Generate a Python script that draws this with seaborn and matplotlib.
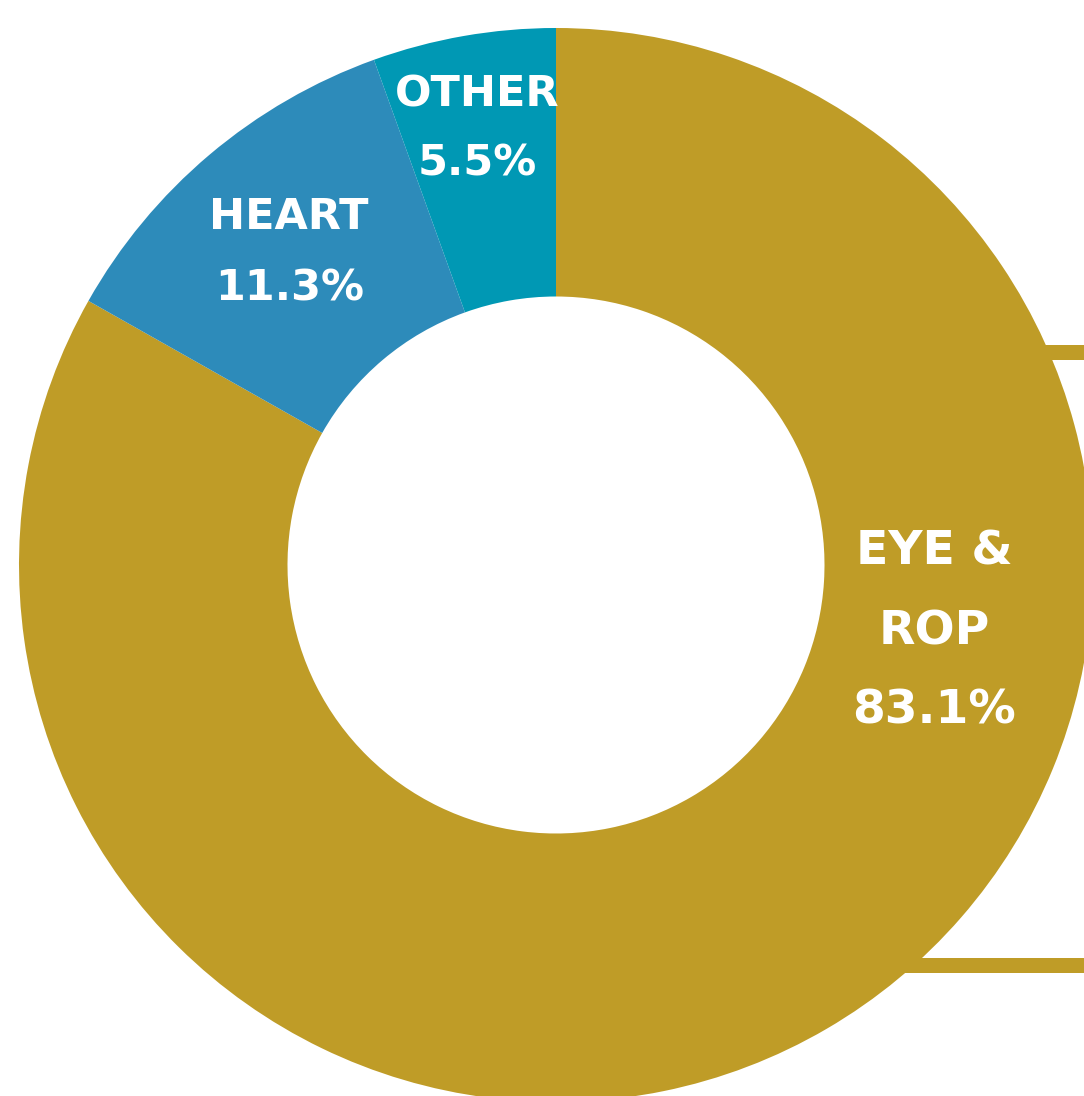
import numpy as np
import matplotlib
matplotlib.use("Agg")
import matplotlib.pyplot as plt
import seaborn as sns

# slice data, clockwise from 12 o'clock
categories = ["EYE &\nROP", "HEART", "OTHER"]
shares     = [83.1, 11.3, 5.5]
colors     = ["#BF9C27", "#2D8BBA", "#0098B4"]

# label placement (angle in degrees, radius in outer-radius units)
label_angle  = [-10.0, 130.5, 100.3]
label_radius = [0.715, 0.765, 0.825]
label_size   = [34, 31, 31]
label_space  = [1.98, 1.88, 1.84]

sns.set_theme(style="white")
plt.rcParams['font.family'] = ['DejaVu Sans']

W, H, DPI = 1084, 1096, 100
cx, cy, R = 556, 565, 537   # pixel centre and outer radius

fig = plt.figure(figsize=(W / DPI, H / DPI), dpi=DPI)
ax = fig.add_axes([0, 0, 1, 1])

ax.pie(shares, colors=colors, startangle=90, counterclock=False,
       radius=1.0, wedgeprops=dict(width=0.5, linewidth=0))

# pie() resets the limits, so set them afterwards
ax.set_xlim(-cx / R, (W - cx) / R)
ax.set_ylim(-(H - cy) / R, cy / R)
ax.set_aspect("equal")
ax.axis("off")

# gold bracket lines from the callout box on the right
for yc, x0 in [((cy - 352.5) / R, 0.9), ((cy - 965.5) / R, 0.8)]:
    ax.axhspan(yc - 7.5 / R, yc + 7.5 / R, xmin=x0, xmax=1.0,
               color=colors[0], lw=0, zorder=0)

for lab, val, ang, rad, fs, sp in zip(categories, shares, label_angle,
                                      label_radius, label_size, label_space):
    a = np.deg2rad(ang)
    ax.text(rad * np.cos(a), rad * np.sin(a), f"{lab}\n{val:.1f}%",
            ha="center", va="center", color="white", fontsize=fs,
            fontweight="bold", linespacing=sp, zorder=5)

fig.savefig("out.png", dpi=DPI, facecolor="white")
